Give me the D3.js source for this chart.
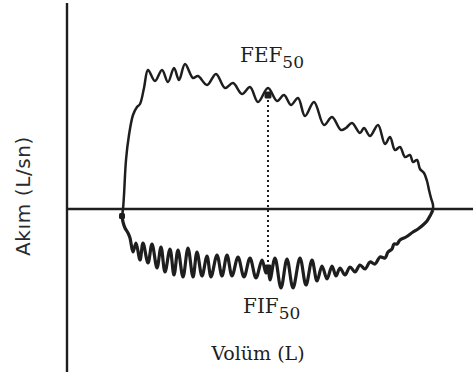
<!DOCTYPE html>
<html><head><meta charset="utf-8">
<script src="https://cdn.jsdelivr.net/npm/d3@7"></script>
<style>html,body{margin:0;padding:0;background:#fff;}svg{display:block;}</style>
</head><body>
<svg id="chart" width="473" height="378"></svg>
<script>
// Expiratory limb: volume (L), flow (L/s)
const expVolume = [0,0.02,0.04,0.08,0.14,0.22,0.30,0.36,0.44,0.52,0.66,0.80,0.92,1.04,1.14,1.26,1.42,1.52,1.70,1.88,2.06,2.22,2.40,2.56,2.72,2.92,3.10,3.24,3.38,3.52,3.66,3.84,4.04,4.20,4.38,4.48,4.60,4.76,4.84,4.96,5.12,5.26,5.36,5.46,5.56,5.66,5.76,5.82,5.90,5.96,6.04,6.10,6.14,6.18,6.22,6.22];
const expFlow = [-0.35,0,0.70,2.45,3.70,4.70,5.10,5.25,6.05,6.95,6.40,6.95,6.35,7.05,6.45,7.25,6.55,6.65,6.20,6.75,6.05,6.30,5.75,6.10,5.35,6.05,5.40,5.70,5.20,5.55,4.65,5.35,4.20,4.60,3.95,4.05,4.30,3.80,4.05,3.65,4.20,3.25,3.60,2.95,3.10,2.60,2.70,2.35,2.45,2.00,1.80,1.40,0.95,0.55,0.20,-0.05];
// Inspiratory limb
const insVolume = [0,0.02,0.06,0.12,0.16,0.22,0.28,0.36,0.42,0.52,0.60,0.70,0.78,0.86,0.96,1.04,1.12,1.22,1.32,1.42,1.50,1.60,1.70,1.78,1.90,2.00,2.10,2.20,2.32,2.44,2.56,2.68,2.80,2.88,2.92,2.96,3.06,3.18,3.30,3.42,3.56,3.68,3.80,3.90,4.00,4.10,4.20,4.28,4.36,4.46,4.56,4.66,4.76,4.86,4.96,5.06,5.16,5.26,5.32,5.40,5.44,5.50,5.56,5.68,5.82,5.92,6.02,6.10,6.16,6.20,6.22];
const insFlow = [-0.35,-0.65,-0.95,-1.20,-1.45,-2.15,-1.70,-2.55,-1.70,-2.70,-1.75,-2.95,-1.90,-3.15,-2.00,-3.30,-2.05,-3.40,-1.95,-3.40,-2.15,-3.35,-2.35,-3.40,-2.30,-3.35,-2.30,-3.35,-2.40,-3.40,-2.45,-3.45,-2.55,-3.20,-2.95,-3.55,-2.45,-3.95,-2.50,-3.95,-2.45,-3.80,-2.55,-3.60,-2.85,-3.50,-2.85,-3.35,-2.95,-3.30,-2.90,-3.15,-2.80,-3.00,-2.65,-2.75,-2.40,-2.45,-2.15,-2.00,-1.75,-1.75,-1.55,-1.40,-1.15,-1.00,-0.80,-0.60,-0.35,-0.15,-0.05];
// Marked points
const markerNames = ["start","FEF50","FIF50"];
const markerVolume = [0, 2.92, 2.92];
const markerFlow = [-0.35, 5.70, -2.95];

const svg = d3.select("#chart");
const x = d3.scaleLinear().domain([-1.1, 7.02]).range([67, 473]);
const y = d3.scaleLinear().domain([-8.15, 10.3]).range([372, 3]);
const ink = "#1e1e1e";

// axes (no ticks)
svg.append("line").attr("x1", x(-1.1)).attr("x2", x(-1.1)).attr("y1", y(10.3)).attr("y2", y(-8.15))
  .attr("stroke", ink).attr("stroke-width", 2.4);
svg.append("line").attr("x1", x(-1.1)).attr("x2", x(7.02)).attr("y1", y(0)).attr("y2", y(0))
  .attr("stroke", ink).attr("stroke-width", 2.4);

// dotted line between FEF50 and FIF50
svg.append("line").attr("x1", x(markerVolume[1])).attr("x2", x(markerVolume[2]))
  .attr("y1", y(markerFlow[1])).attr("y2", y(markerFlow[2]))
  .attr("stroke", ink).attr("stroke-width", 2).attr("stroke-dasharray", "2,3");

const line = d3.line().x(d => x(d[0])).y(d => y(d[1])).curve(d3.curveCatmullRom.alpha(0.5));
svg.append("path").datum(expVolume.map((v, i) => [v, expFlow[i]])).attr("d", line)
  .attr("fill", "none").attr("stroke", ink).attr("stroke-width", 2.5).attr("stroke-linejoin", "round");
svg.append("path").datum(insVolume.map((v, i) => [v, insFlow[i]])).attr("d", line)
  .attr("fill", "none").attr("stroke", ink).attr("stroke-width", 3.2).attr("stroke-linejoin", "round");

// markers
svg.selectAll("rect.mk").data(markerNames).enter().append("rect").attr("class", "mk")
  .attr("x", (d, i) => x(markerVolume[i]) - (i ? 3.5 : 3))
  .attr("y", (d, i) => y(markerFlow[i]) - (i ? 3.5 : 3))
  .attr("width", (d, i) => i ? 7 : 6).attr("height", (d, i) => i ? 7 : 6)
  .attr("rx", 1.5).attr("fill", ink);

// labels
const serif = "'DejaVu Serif', serif";
function sublabel(main, sub, xx, yy) {
  const t = svg.append("text").attr("x", xx).attr("y", yy).attr("font-family", serif)
    .attr("font-size", 20).attr("fill", ink);
  t.append("tspan").text(main);
  t.append("tspan").attr("dy", 6).attr("font-size", 17).text(sub);
}
sublabel("FEF", "50", 240, 62);
sublabel("FIF", "50", 243, 313);
svg.append("text").attr("x", 258).attr("y", 360).attr("text-anchor", "middle")
  .attr("font-family", serif).attr("font-size", 19).attr("fill", ink).text("Volüm (L)");
svg.append("text").attr("transform", "translate(30,196) rotate(-90)").attr("text-anchor", "middle")
  .attr("font-family", "'DejaVu Sans', sans-serif").attr("font-size", 20).attr("letter-spacing", 0.6)
  .attr("fill", "#2a2a2a").text("Akım (L/sn)");
</script>
</body></html>
